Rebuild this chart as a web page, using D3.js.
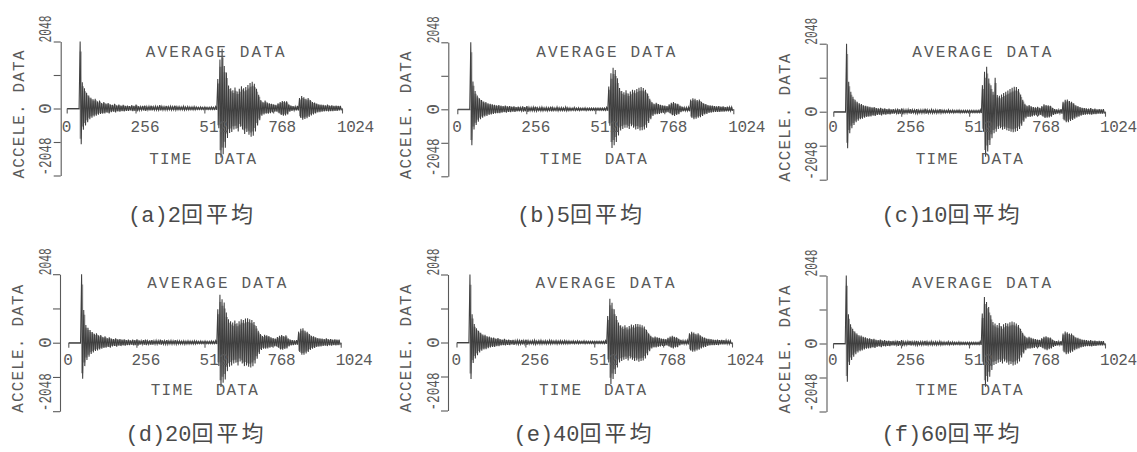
<!DOCTYPE html>
<html><head><meta charset="utf-8">
<script src="https://cdn.jsdelivr.net/npm/d3@7"></script>
<style>body{margin:0;background:#fff}svg{display:block}</style>
</head><body><svg id="c" width="1137" height="452"></svg>
<script>
// ---------- data ----------
const xTicks = [0, 256, 512, 768, 1024];
const yTicks = [-2048, -1024, 0, 1024, 2048];
const titleText = "AVERAGE DATA";
const xAxisTitle = "TIME  DATA";
const yAxisTitle = "ACCELE. DATA";
const captionLabels = ["(a)2", "(b)5", "(c)10", "(d)20", "(e)40", "(f)60"];
const captionSuffix = "回平均";
// envelope per 8-sample bin (128 bins): upper (hi) and lower (lo) peak values
const z6 = [0,0,0,0,0,0];
const hiA = [...z6,2048,800,620,480,400,330,280,300,220,240,170,200,150,170,130,110,140,100,120,90,110,80,90,70,100,80,120,70,60,80,90,60,70,90,60,70,60,100,70,60,80,60,70,60,90,60,60,50,70,50,60,50,50,60,50,40,50,40,50,40,40,50,40,60,900,1500,1830,1300,1100,700,620,560,640,520,600,680,620,660,720,780,820,760,600,420,260,200,240,180,160,140,130,110,160,200,230,220,220,130,90,70,60,80,320,380,340,300,320,260,200,180,150,130,120,110,100,120,90,100,80,90,80,80];
const loA = [...z6,-1090,-650,-520,-420,-330,-280,-240,-220,-190,-170,-160,-150,-130,-150,-110,-100,-120,-90,-100,-80,-90,-70,-70,-60,-80,-70,-90,-60,-50,-60,-70,-50,-60,-60,-50,-50,-50,-60,-50,-50,-50,-40,-50,-40,-50,-40,-40,-40,-50,-40,-40,-40,-40,-40,-30,-30,-30,-30,-30,-30,-30,-30,-30,-40,-600,-1500,-1400,-1200,-900,-750,-720,-640,-620,-700,-560,-640,-780,-720,-800,-860,-830,-700,-520,-360,-220,-180,-160,-160,-140,-120,-100,-100,-140,-200,-220,-210,-180,-100,-70,-60,-60,-60,-280,-340,-320,-300,-260,-210,-180,-150,-120,-110,-100,-90,-80,-90,-80,-80,-70,-70,-60,-60];
const hiB = [...z6,2048,850,560,420,340,280,240,220,180,170,150,140,120,130,110,100,110,90,100,80,90,70,80,60,90,70,100,60,60,70,80,50,60,70,50,60,50,80,60,50,70,50,60,50,70,50,50,40,60,40,50,40,40,50,40,40,40,40,40,40,40,40,40,60,700,1100,1270,1200,950,650,560,520,580,480,540,600,580,620,660,680,650,600,480,320,220,170,200,160,140,120,110,100,150,200,220,180,170,110,80,60,60,70,300,340,320,280,300,230,180,160,130,120,110,100,90,100,80,90,70,80,70,70];
const loB = [...z6,-1100,-620,-480,-380,-300,-260,-220,-200,-170,-160,-140,-130,-120,-120,-100,-90,-100,-80,-90,-70,-80,-60,-60,-50,-70,-60,-80,-50,-50,-50,-60,-40,-50,-50,-40,-50,-40,-60,-40,-40,-50,-40,-40,-40,-50,-40,-40,-30,-40,-30,-40,-30,-30,-40,-30,-30,-30,-30,-30,-30,-30,-30,-30,-40,-500,-1180,-1100,-1000,-800,-650,-600,-560,-560,-600,-520,-560,-620,-600,-650,-640,-620,-560,-420,-300,-200,-160,-150,-140,-120,-110,-100,-90,-130,-180,-200,-170,-150,-90,-60,-50,-50,-60,-260,-300,-290,-260,-240,-200,-160,-140,-110,-100,-90,-80,-80,-80,-70,-70,-60,-60,-50,-50];
const hiC = [...z6,2048,900,600,450,360,300,250,230,190,180,160,150,130,140,110,100,120,90,100,80,90,70,80,60,90,70,100,60,60,70,80,60,60,80,50,60,60,90,60,50,70,50,60,50,80,50,50,40,60,40,50,40,50,50,40,40,40,40,40,40,40,40,40,60,800,1200,1355,1000,800,600,1020,500,480,520,560,600,640,680,720,750,740,680,520,360,240,180,200,160,140,130,150,120,170,220,200,190,180,120,80,70,60,80,300,360,370,320,300,250,190,170,140,120,110,100,90,110,80,90,70,80,70,80];
const loC = [...z6,-1100,-650,-500,-400,-320,-270,-230,-210,-180,-160,-150,-140,-120,-130,-100,-90,-110,-80,-90,-70,-80,-60,-60,-50,-70,-60,-80,-50,-50,-50,-60,-40,-50,-60,-40,-50,-40,-60,-50,-40,-50,-40,-50,-40,-50,-40,-40,-30,-40,-30,-40,-30,-30,-40,-30,-30,-30,-30,-30,-30,-30,-30,-30,-40,-600,-1355,-1200,-1000,-800,-650,-600,-520,-500,-540,-520,-560,-580,-600,-620,-600,-580,-520,-420,-300,-200,-160,-160,-140,-120,-110,-120,-100,-140,-190,-180,-170,-150,-100,-70,-60,-50,-60,-260,-320,-320,-280,-250,-210,-170,-150,-120,-100,-90,-80,-80,-90,-70,-70,-60,-60,-60,-60];
const hiD = [...z6,2048,980,530,450,380,320,270,280,220,230,170,190,140,160,120,110,130,100,110,90,100,80,90,70,90,80,100,70,60,80,90,60,70,80,60,70,60,90,70,60,80,60,70,60,80,60,60,50,60,50,60,50,50,60,50,40,50,40,50,40,40,50,40,60,1000,1435,1300,1200,900,700,640,600,660,580,640,700,680,720,730,700,680,620,500,360,260,200,240,220,200,160,140,120,170,210,230,200,220,130,90,80,70,80,330,420,430,360,330,260,210,190,160,140,130,120,110,130,100,110,90,100,90,90];
const loD = [...z6,-1075,-700,-520,-420,-340,-290,-250,-230,-200,-180,-160,-150,-130,-150,-110,-100,-120,-90,-100,-80,-90,-70,-70,-60,-80,-70,-90,-60,-50,-60,-70,-50,-60,-60,-50,-50,-50,-60,-50,-50,-50,-40,-50,-40,-50,-40,-40,-40,-50,-40,-40,-40,-40,-40,-30,-30,-30,-30,-30,-30,-30,-30,-30,-40,-700,-1325,-1200,-1100,-850,-720,-680,-620,-600,-680,-560,-620,-700,-680,-720,-740,-700,-620,-480,-340,-220,-180,-180,-170,-150,-130,-110,-110,-150,-200,-210,-190,-170,-110,-80,-70,-60,-60,-280,-360,-360,-320,-280,-220,-180,-160,-130,-120,-110,-100,-90,-100,-80,-90,-70,-80,-70,-70];
const hiE = [...z6,2048,850,560,430,350,290,240,230,190,180,150,150,120,130,100,90,110,80,90,70,80,60,70,60,80,60,90,60,50,60,70,50,60,70,50,60,50,70,60,50,60,50,60,50,60,50,50,40,50,40,50,40,40,50,40,40,40,40,40,40,40,40,40,60,800,1320,1200,1000,800,600,520,480,520,460,500,540,520,560,560,540,520,480,380,280,200,160,180,160,140,120,110,100,140,180,200,170,160,110,80,60,60,70,280,320,300,260,280,220,170,150,120,110,100,90,80,90,70,80,70,70,60,60];
const loE = [...z6,-1100,-620,-480,-380,-300,-250,-210,-200,-170,-150,-130,-130,-110,-110,-90,-80,-90,-70,-80,-60,-70,-50,-60,-50,-60,-50,-70,-50,-40,-50,-60,-40,-50,-50,-40,-50,-40,-50,-40,-40,-50,-40,-40,-40,-40,-40,-40,-30,-40,-30,-40,-30,-30,-40,-30,-30,-30,-30,-30,-30,-30,-30,-30,-40,-600,-1250,-1100,-950,-750,-600,-560,-520,-500,-540,-480,-520,-560,-540,-580,-560,-540,-480,-380,-260,-180,-150,-150,-130,-120,-100,-100,-90,-120,-160,-180,-150,-140,-90,-60,-50,-50,-60,-240,-280,-270,-240,-220,-180,-150,-130,-100,-90,-80,-80,-70,-80,-60,-60,-60,-50,-50,-50];
const hiF = [...z6,2048,880,580,440,360,300,250,240,200,190,160,160,130,140,110,100,120,90,100,80,90,70,80,60,90,70,100,60,60,70,80,60,60,80,50,60,60,80,60,50,70,50,60,50,70,50,50,40,60,40,50,40,40,50,40,40,40,40,40,40,40,40,40,60,900,1400,1250,1100,850,650,600,560,620,520,580,620,600,640,660,640,600,560,440,320,230,180,200,170,150,130,120,110,160,200,220,190,180,120,80,70,60,70,300,360,340,300,300,240,190,170,140,120,110,100,90,100,80,90,70,80,70,70];
const loF = [...z6,-1150,-650,-500,-400,-320,-270,-230,-210,-180,-160,-150,-140,-120,-130,-100,-90,-110,-80,-90,-70,-80,-60,-60,-50,-70,-60,-80,-50,-50,-50,-60,-40,-50,-60,-40,-50,-40,-60,-50,-40,-50,-40,-50,-40,-50,-40,-40,-30,-40,-30,-40,-30,-30,-40,-30,-30,-30,-30,-30,-30,-30,-30,-30,-40,-650,-1300,-1150,-1000,-800,-650,-620,-580,-560,-600,-540,-580,-640,-620,-660,-640,-600,-540,-420,-300,-200,-160,-160,-140,-130,-110,-110,-100,-140,-180,-200,-170,-150,-100,-70,-60,-50,-60,-260,-320,-310,-280,-250,-200,-170,-150,-120,-100,-90,-80,-80,-90,-70,-70,-60,-60,-60,-60];
const BIN = 8;

// ---------- layout ----------
const rows = [
  {title: 57, tick: 132, xlab: 163.5, cap: 222},
  {title: 287.5, tick: 365, xlab: 395, cap: 441}
];
const panels = [
  {hi: hiA, lo: loA, row: 0, ax: 60.7, x0: 66.7, x1: 342, zy: 108.5, h: 67, capX: 192},
  {hi: hiB, lo: loB, row: 0, ax: 448.3, x0: 457.3, x1: 733.3, zy: 109.3, h: 67, capX: 581},
  {hi: hiC, lo: loC, row: 0, ax: 826.7, x0: 833.3, x1: 1105, zy: 111.7, h: 68, capX: 952},
  {hi: hiD, lo: loD, row: 1, ax: 60, x0: 68.3, x1: 340.7, zy: 342.7, h: 68.5, capX: 196},
  {hi: hiE, lo: loE, row: 1, ax: 448, x0: 456.5, x1: 732, zy: 342.5, h: 68, capX: 584},
  {hi: hiF, lo: loF, row: 1, ax: 826.5, x0: 833, x1: 1105, zy: 343.5, h: 68, capX: 952}
];

const svg = d3.select("#c");
const INK = "#5a5a5a";
const MONO = "'Liberation Mono', 'DejaVu Sans Mono', monospace";

function ptext(g, str, x, y, opts) {
  const t = g.append("text").text(str)
    .attr("font-family", MONO).attr("font-size", opts.size || 16)
    .attr("fill", INK).attr("text-anchor", opts.anchor || "start")
    .style("white-space", "pre");
  if (opts.len && str.length > 1) t.attr("textLength", opts.len).attr("lengthAdjust", opts.adj || "spacing");
  if (opts.rot) t.attr("transform", `translate(${x},${y}) rotate(-90)`);
  else t.attr("x", x).attr("y", y);
  return t;
}

const xLabelLen = {"256": 29, "512": 29, "768": 28, "1024": 37};

panels.forEach((p, k) => {
  const r = rows[p.row];
  const g = svg.append("g");
  const x = d3.scaleLinear().domain([0, 1024]).range([p.x0, p.x1]);
  const y = d3.scaleLinear().domain([-2048, 2048]).range([p.zy + p.h, p.zy - p.h]);

  // y axis
  const ya = g.append("g").attr("transform", `translate(${p.ax},0)`)
    .call(d3.axisLeft(y).tickValues(yTicks).tickSize(7).tickSizeOuter(0).tickFormat(""));
  ya.selectAll("path,line").attr("stroke", INK).attr("stroke-width", 1.1);

  // x axis (at zero level)
  const xa = g.append("g").attr("transform", `translate(0,${y(0)})`)
    .call(d3.axisBottom(x).tickValues(xTicks).tickSize(5).tickSizeOuter(0).tickFormat(""));
  xa.selectAll("path,line").attr("stroke", INK).attr("stroke-width", 1.1);

  // waveform envelope (light fill) + oscillation (alternate upper / lower peak per bin)
  const bins = p.hi.map((v, i) => ({s: i * BIN + 4, hi: v, lo: p.lo[i]}));
  g.append("path").datum(bins)
    .attr("d", d3.area().x(d => x(d.s)).y0(d => y(d.lo * 0.85)).y1(d => y(d.hi * 0.85)).curve(d3.curveStep))
    .attr("fill", "#a0a0a0").attr("stroke", "none");
  const pts = [];
  p.hi.forEach((v, i) => {
    pts.push({s: i * BIN + 2, v: v});
    pts.push({s: i * BIN + 6, v: p.lo[i]});
  });
  g.append("path").datum(pts)
    .attr("d", d3.line().x(d => x(d.s)).y(d => y(d.v)))
    .attr("fill", "none").attr("stroke", "#404040").attr("stroke-width", 1.05)
    .attr("stroke-linejoin", "miter");

  // x tick labels
  xTicks.forEach(t => {
    ptext(g, String(t), x(t) - 5, r.tick, {size: 16, len: xLabelLen[t]});
  });
  // y tick labels (rotated)
  const lx = p.ax - 9.5;
  ptext(g, "2048", lx, y(2048) - 12.5, {size: 18, rot: true, anchor: "middle", len: 27, adj: "spacingAndGlyphs"});
  ptext(g, "0", lx, y(0), {size: 18, rot: true, anchor: "middle"});
  ptext(g, "-2048", lx, y(-2048) - 19, {size: 18, rot: true, anchor: "middle", len: 38, adj: "spacingAndGlyphs"});

  // titles
  ptext(g, titleText, p.x0 + 79, r.title, {size: 16, len: 139});
  ptext(g, xAxisTitle, p.x0 + 82.5, r.xlab, {size: 16, len: 107});
  ptext(g, yAxisTitle, p.ax - 37, p.zy + 70, {size: 16, rot: true, len: 128});

  // caption
  const c = g.append("text").attr("x", p.capX).attr("y", r.cap)
    .attr("text-anchor", "middle").attr("fill", "#4a4a4a").attr("font-size", 22);
  c.append("tspan").attr("font-family", "'Liberation Mono', monospace").text(captionLabels[k]);
  c.append("tspan").attr("font-family", "'Noto Sans CJK JP', sans-serif")
    .attr("letter-spacing", 3).text(captionSuffix);
});
</script></body></html>
